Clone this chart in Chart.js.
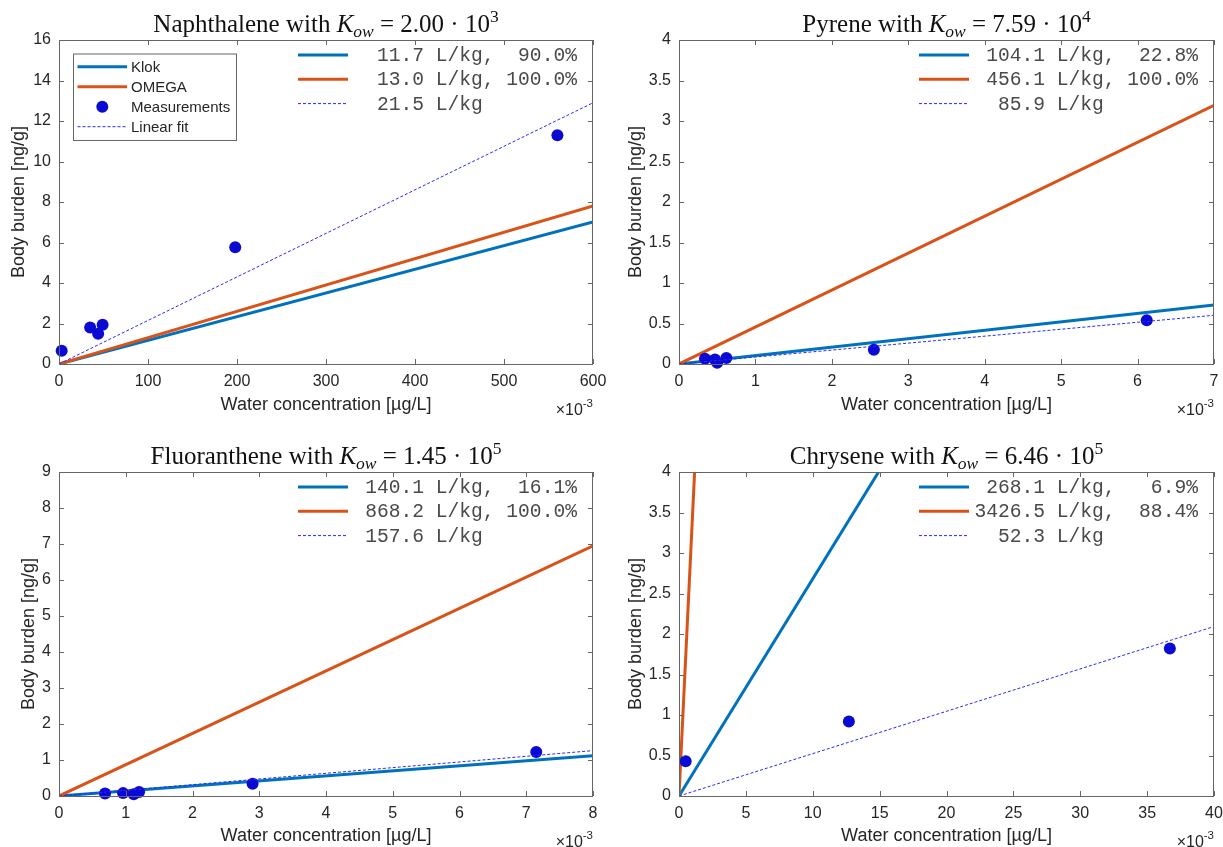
<!DOCTYPE html>
<html>
<head>
<meta charset="utf-8">
<title>Body burden versus water concentration</title>
<script src="https://cdn.jsdelivr.net/npm/chart.js@4.4.1/dist/chart.umd.min.js"></script>
<style>
  html, body { margin: 0; padding: 0; background: #ffffff; }
  #figure { position: relative; width: 1223px; height: 847px; overflow: hidden; }
  #figure canvas { position: absolute; }
</style>
</head>
<body>
<div id="figure"></div>
<script>
// ---- data -------------------------------------------------------------
// water concentration is given in units of 10^-3 µg/L, body burden in ng/g
const compounds   = ['Naphthalene', 'Pyrene', 'Fluoranthene', 'Chrysene'];
const kowMantissa = ['2.00', '7.59', '1.45', '6.46'];
const kowExponent = ['3', '4', '5', '5'];

// bioconcentration factors [L/kg] and shares [%]
const klokBcf    = [11.7, 104.1, 140.1, 268.1];
const klokShare  = [90.0, 22.8, 16.1, 6.9];
const omegaBcf   = [13.0, 456.1, 868.2, 3426.5];
const omegaShare = [100.0, 100.0, 100.0, 88.4];
const fitBcf     = [21.5, 85.9, 157.6, 52.3];

// measurements
const naphthaleneWater  = [3, 35, 44, 49, 198, 560];
const naphthaleneBody   = [0.66, 1.80, 1.49, 1.94, 5.76, 11.30];
const pyreneWater       = [0.34, 0.47, 0.50, 0.62, 2.55, 6.12];
const pyreneBody        = [0.065, 0.055, 0.015, 0.075, 0.175, 0.54];
const fluorantheneWater = [0.69, 0.96, 1.12, 1.20, 2.90, 7.15];
const fluorantheneBody  = [0.07, 0.08, 0.05, 0.11, 0.34, 1.22];
const chryseneWater     = [0.5, 12.7, 36.7];
const chryseneBody      = [0.43, 0.92, 1.82];

// tick labels
const naphthaleneXTicks  = [0, 100, 200, 300, 400, 500, 600];
const naphthaleneYTicks  = [0, 2, 4, 6, 8, 10, 12, 14, 16];
const pyreneXTicks       = [0, 1, 2, 3, 4, 5, 6, 7];
const pyreneYTicks       = [0, 0.5, 1, 1.5, 2, 2.5, 3, 3.5, 4];
const fluorantheneXTicks = [0, 1, 2, 3, 4, 5, 6, 7, 8];
const fluorantheneYTicks = [0, 1, 2, 3, 4, 5, 6, 7, 8, 9];
const chryseneXTicks     = [0, 5, 10, 15, 20, 25, 30, 35, 40];
const chryseneYTicks     = [0, 0.5, 1, 1.5, 2, 2.5, 3, 3.5, 4];

const xLabel = 'Water concentration [µg/L]';
const yLabel = 'Body burden [ng/g]';
const xScaleExponent = '-3';
const seriesNames = ['Klok', 'OMEGA', 'Measurements', 'Linear fit'];

// ---- styles -------------------------------------------------------------
const KLOK_COLOR  = '#0072BD';
const OMEGA_COLOR = '#D95319';
const MEAS_COLOR  = '#0a0ad2';
const FIT_COLOR   = '#2828ff';
const TEXT_COLOR  = '#262626';
const AXIS_COLOR  = '#666666';
const SANS  = '"Liberation Sans", Arial, Helvetica, sans-serif';
const SERIF = '"Liberation Serif", "Times New Roman", serif';
const MONO  = '"Liberation Mono", "Courier New", monospace';

// canvas placement and plot box of each panel (pixels)
const panels = [
  { water: naphthaleneWater,  body: naphthaleneBody,  xTicks: naphthaleneXTicks,  yTicks: naphthaleneYTicks,
    left: 0,   top: 0,   width: 612, height: 420, axisW: 59, padTop: 40, padRight: 19, axisH: 56, yTitlePad: 8.7, xTitlePad: 4.2, seriesLegend: true },
  { water: pyreneWater,       body: pyreneBody,       xTicks: pyreneXTicks,       yTicks: pyreneYTicks,
    left: 612, top: 0,   width: 611, height: 420, axisW: 67, padTop: 40, padRight: 9,  axisH: 56, yTitlePad: 13.2, xTitlePad: 4.2, seriesLegend: false },
  { water: fluorantheneWater, body: fluorantheneBody, xTicks: fluorantheneXTicks, yTicks: fluorantheneYTicks,
    left: 0,   top: 420, width: 612, height: 427, axisW: 59, padTop: 52, padRight: 19, axisH: 51, yTitlePad: 18.2, xTitlePad: 0, seriesLegend: false },
  { water: chryseneWater,     body: chryseneBody,     xTicks: chryseneXTicks,     yTicks: chryseneYTicks,
    left: 612, top: 420, width: 611, height: 427, axisW: 67, padTop: 52, padRight: 9,  axisH: 51, yTitlePad: 13.2, xTitlePad: 0, seriesLegend: false }
];

// ---- helpers ------------------------------------------------------------
function pad(str, n) { return str.length >= n ? str : ' '.repeat(n - str.length) + str; }
function bcfText(k, share) {
  let s = pad(k.toFixed(1), 6) + ' L/kg';
  if (share !== undefined) s += ', ' + pad(share.toFixed(1), 5) + '%';
  return s;
}
// straight line through the origin, y = K * c  (c converted from 10^-3 µg/L to µg/L)
function originLine(k, xMax) {
  return [{ x: 0, y: 0 }, { x: xMax, y: k * xMax / 1000 }];
}

// draws frame, inward ticks, legends, title and the axis exponent
const panelDecor = {
  id: 'panelDecor',
  afterDatasetsDraw(chart, args, opts) {
    const { ctx, chartArea: a, scales: { x, y } } = chart;
    ctx.save();

    // axes box with inward ticks on all four sides
    ctx.strokeStyle = AXIS_COLOR;
    ctx.lineWidth = 1;
    const tl = 5;
    ctx.beginPath();
    x.ticks.forEach(t => {
      const px = Math.round(x.getPixelForValue(t.value)) + 0.5;
      ctx.moveTo(px, a.bottom); ctx.lineTo(px, a.bottom - tl);
      ctx.moveTo(px, a.top);    ctx.lineTo(px, a.top + tl);
    });
    y.ticks.forEach(t => {
      const py = Math.round(y.getPixelForValue(t.value)) + 0.5;
      ctx.moveTo(a.left, py);  ctx.lineTo(a.left + tl, py);
      ctx.moveTo(a.right, py); ctx.lineTo(a.right - tl, py);
    });
    ctx.stroke();
    ctx.strokeRect(a.left + 0.5, a.top + 0.5, a.right - a.left - 1, a.bottom - a.top);

    const ds = chart.data.datasets;

    // BCF legend (top right)
    ctx.font = '19.6px ' + MONO;
    ctx.textBaseline = 'middle';
    ctx.textAlign = 'left';
    opts.rows.forEach((row, i) => {
      const d = ds[row.dataset];
      const ry = a.top + 15 + i * 24.3;
      ctx.save();
      ctx.strokeStyle = d.borderColor;
      ctx.lineWidth = d.borderWidth;
      ctx.setLineDash(d.borderDash || []);
      ctx.beginPath();
      ctx.moveTo(a.right - 295, ry);
      ctx.lineTo(a.right - 245, ry);
      ctx.stroke();
      ctx.restore();
      ctx.fillStyle = '#4a4a4a';
      ctx.fillText(row.text, a.right - 239.5, ry + 1);
    });

    // series legend with box (first panel only)
    if (opts.seriesLegend) {
      const bx = a.left + 14, by = a.top + 13.5, bw = 163, bh = 86.5;
      ctx.fillStyle = '#ffffff';
      ctx.fillRect(bx, by, bw, bh);
      ctx.strokeStyle = AXIS_COLOR;
      ctx.lineWidth = 1;
      ctx.strokeRect(bx + 0.5, by + 0.5, bw, bh);
      ctx.font = '15px ' + SANS;
      ds.forEach((d, i) => {
        const ry = a.top + 26.7 + i * 20;
        if (d.showLine) {
          ctx.save();
          ctx.strokeStyle = d.borderColor;
          ctx.lineWidth = d.borderWidth;
          ctx.setLineDash(d.borderDash || []);
          ctx.beginPath();
          ctx.moveTo(a.left + 18.5, ry);
          ctx.lineTo(a.left + 68, ry);
          ctx.stroke();
          ctx.restore();
        } else {
          ctx.fillStyle = d.backgroundColor;
          ctx.beginPath();
          ctx.arc(a.left + 43.3, ry, d.pointRadius, 0, Math.PI * 2);
          ctx.fill();
        }
        ctx.fillStyle = TEXT_COLOR;
        ctx.fillText(d.label, a.left + 72, ry + 1);
      });
    }
    ctx.restore();
  },
  afterDraw(chart, args, opts) {
    const { ctx, chartArea: a } = chart;
    ctx.save();
    ctx.fillStyle = '#111111';
    ctx.textBaseline = 'alphabetic';
    ctx.textAlign = 'left';

    // title: "<name> with K_ow = m · 10^e"
    const big = 25, small = 17.5;
    const segs = [
      { t: opts.name + ' with ', f: big + 'px ' + SERIF, dy: 0 },
      { t: 'K', f: 'italic ' + big + 'px ' + SERIF, dy: 0 },
      { t: 'ow', f: 'italic ' + small + 'px ' + SERIF, dy: 5 },
      { t: ' = ' + opts.mantissa + ' \u00B7 10', f: big + 'px ' + SERIF, dy: 0 },
      { t: opts.exponent, f: small + 'px ' + SERIF, dy: -10 }
    ];
    let total = 0;
    segs.forEach(s => { ctx.font = s.f; s.w = ctx.measureText(s.t).width; total += s.w; });
    let tx = (a.left + a.right) / 2 - total / 2;
    const ty = a.top - 8;
    segs.forEach(s => { ctx.font = s.f; ctx.fillText(s.t, tx, ty + s.dy); tx += s.w; });

    // "×10^-3" under the right end of the x axis
    ctx.fillStyle = TEXT_COLOR;
    ctx.font = '11.5px ' + SANS;
    const expW = ctx.measureText(xScaleExponent).width;
    ctx.font = '16px ' + SANS;
    const baseW = ctx.measureText('\u00D710').width;
    const ex = a.right - expW - baseW;
    const ey = a.bottom + 51;
    ctx.fillText('\u00D710', ex, ey);
    ctx.font = '11.5px ' + SANS;
    ctx.fillText(xScaleExponent, ex + baseW, ey - 8);
    ctx.restore();
  }
};

// ---- build the four panels ---------------------------------------------
const fig = document.getElementById('figure');

panels.forEach((p, i) => {
  const canvas = document.createElement('canvas');
  canvas.width = p.width;
  canvas.height = p.height;
  canvas.style.left = p.left + 'px';
  canvas.style.top = p.top + 'px';
  canvas.style.width = p.width + 'px';
  canvas.style.height = p.height + 'px';
  fig.appendChild(canvas);

  const xMax = p.xTicks[p.xTicks.length - 1];
  const yMax = p.yTicks[p.yTicks.length - 1];
  const measurements = p.water.map((w, j) => ({ x: w, y: p.body[j] }));

  const datasets = [
    { label: seriesNames[0], data: originLine(klokBcf[i], xMax), showLine: true,
      borderColor: KLOK_COLOR, borderWidth: 3, pointRadius: 0, order: 3, clip: 0 },
    { label: seriesNames[1], data: originLine(omegaBcf[i], xMax), showLine: true,
      borderColor: OMEGA_COLOR, borderWidth: 3, pointRadius: 0, order: 2, clip: 0 },
    { label: seriesNames[2], data: measurements, showLine: false,
      backgroundColor: MEAS_COLOR, borderColor: MEAS_COLOR, borderWidth: 0, pointRadius: 6, order: 1, clip: false },
    { label: seriesNames[3], data: originLine(fitBcf[i], xMax), showLine: true,
      borderColor: FIT_COLOR, borderWidth: 1, borderDash: [3, 2], pointRadius: 0, order: 0, clip: 0 }
  ];

  const tickFont = { family: SANS, size: 16 };
  const titleFont = { family: SANS, size: 18 };

  new Chart(canvas, {
    type: 'scatter',
    data: { datasets },
    options: {
      responsive: false,
      animation: false,
      devicePixelRatio: 1,
      events: [],
      layout: { padding: { left: 0, top: p.padTop, right: p.padRight, bottom: 0 } },
      plugins: {
        legend: { display: false },
        tooltip: { enabled: false },
        panelDecor: {
          name: compounds[i],
          mantissa: kowMantissa[i],
          exponent: kowExponent[i],
          seriesLegend: p.seriesLegend,
          rows: [
            { dataset: 0, text: bcfText(klokBcf[i], klokShare[i]) },
            { dataset: 1, text: bcfText(omegaBcf[i], omegaShare[i]) },
            { dataset: 3, text: bcfText(fitBcf[i]) }
          ]
        }
      },
      scales: {
        x: {
          type: 'linear', min: 0, max: xMax,
          afterFit: s => { s.height = p.axisH; s.paddingLeft = 0; s.paddingRight = 0; },
          afterBuildTicks: s => { s.ticks = p.xTicks.map(v => ({ value: v })); },
          grid: { display: false, drawTicks: false },
          border: { display: false },
          ticks: { padding: 8, color: TEXT_COLOR, font: tickFont, maxRotation: 0, autoSkip: false,
                   callback: v => String(v) },
          title: { display: true, text: xLabel, color: TEXT_COLOR, font: titleFont,
                   padding: { top: 0, bottom: p.xTitlePad } }
        },
        y: {
          type: 'linear', min: 0, max: yMax,
          afterFit: s => { s.width = p.axisW; s.paddingTop = 0; s.paddingBottom = 0; },
          afterBuildTicks: s => { s.ticks = p.yTicks.map(v => ({ value: v })); },
          grid: { display: false, drawTicks: false },
          border: { display: false },
          ticks: { padding: 8, color: TEXT_COLOR, font: tickFont, autoSkip: false,
                   callback: v => String(v) },
          title: { display: true, text: yLabel, color: TEXT_COLOR, font: titleFont,
                   padding: { top: p.yTitlePad, bottom: 0 } }
        }
      }
    },
    plugins: [panelDecor]
  });
});
</script>
</body>
</html>
